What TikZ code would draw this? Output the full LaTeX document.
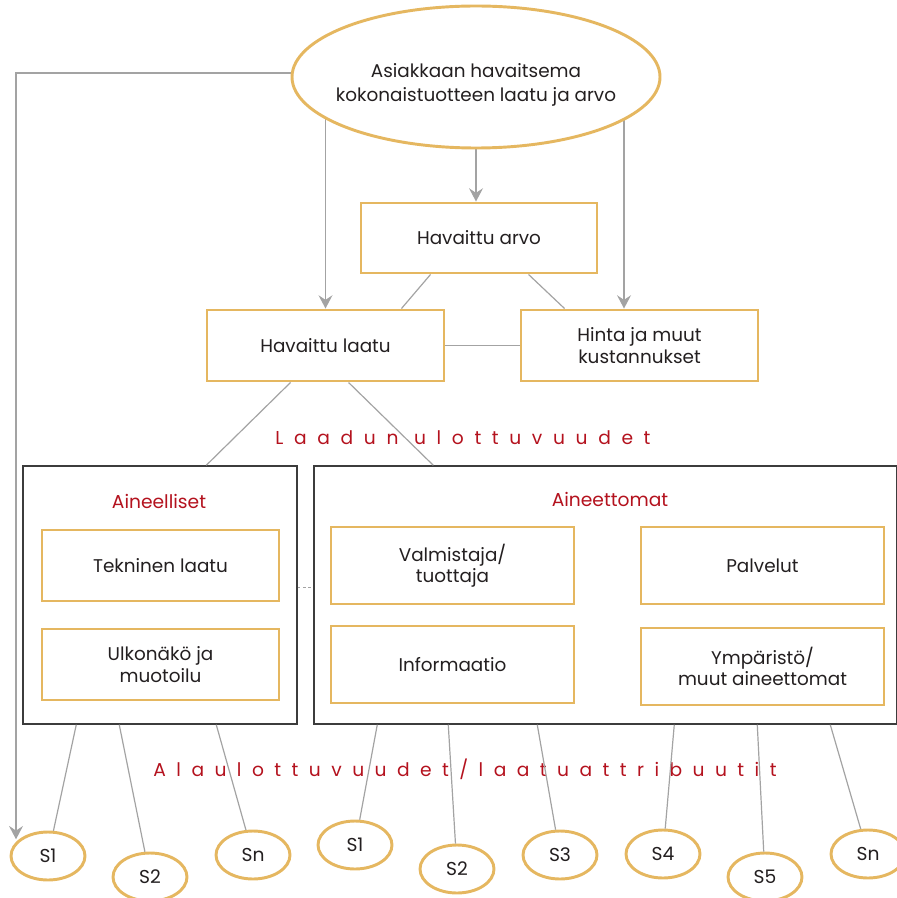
\documentclass[tikz,border=0pt]{standalone}
\usepackage{fontspec}
\setmainfont{Poppins}
\usetikzlibrary{shapes.geometric,arrows.meta,calc,backgrounds}
\definecolor{gold}{HTML}{E5B760}
\definecolor{lgray}{HTML}{A3A3A3}
\definecolor{frame}{HTML}{3C3C3C}
\definecolor{dred}{HTML}{B4121E}
\definecolor{ink}{HTML}{231F20}
\tikzset{
  gbox/.style={draw=gold,line width=2.2pt,fill=white,align=center,inner sep=0pt,text=ink,font=\fontsize{13.8}{16}\selectfont},
  framebox/.style={draw=frame,line width=1.1pt,fill=white,inner sep=0pt},
  sub/.style={ellipse,draw=gold,line width=2.2pt,fill=white,minimum width=55.5pt,minimum height=36pt,inner sep=0pt,text=ink,font=\fontsize{14}{16}\selectfont},
  conn/.style={draw=lgray,line width=0.9pt},
  arr/.style={draw=lgray,line width=0.9pt,-{Stealth[length=10pt,width=10.5pt,inset=3.5pt]},color=lgray},
  redlbl/.style={text=dred,font=\fontsize{14}{16}\selectfont},
  spaced/.style={text=dred,font=\fontsize{14}{16}\selectfont\addfontfeature{LetterSpace=#1}}
}
\begin{document}
\begin{tikzpicture}[x=0.75pt,y=-0.75pt]
\useasboundingbox (0,0) rectangle (896,898);
% top
\node[ellipse,draw=gold,line width=2.2pt,fill=white,minimum width=276pt,minimum height=106.5pt,inner sep=0pt] (top) at (476,77) {};
\node[align=center,text=ink,font=\fontsize{13.8}{18}\selectfont] (toptext) at (476,85) {Asiakkaan havaitsema\\kokonaistuotteen laatu ja arvo};
\node[gbox,minimum width=177pt,minimum height=52.5pt] (arvo) at (479,238) {Havaittu arvo};
\node[gbox,minimum width=177.75pt,minimum height=53.25pt] (laatu) at (325.5,345.5) {Havaittu laatu};
\node[gbox,minimum width=177.75pt,minimum height=53.25pt] (hinta) at (639.5,345.5) {Hinta ja muut\\kustannukset};
% frames
\node[framebox,minimum width=205.5pt,minimum height=193.5pt] (left) at (160,595) {};
\node[framebox,minimum width=437.25pt,minimum height=193.5pt] (right) at (605.5,595) {};
\node[redlbl] (lt) at (159,501) {Aineelliset};
\node[redlbl] (rt) at (610,499) {Aineettomat};
\node[gbox,minimum width=177.75pt,minimum height=53.25pt] (tek) at (160.5,565.5) {Tekninen laatu};
\node[gbox,minimum width=177.75pt,minimum height=53.25pt] (ulk) at (160.5,664.5) {Ulkonäkö ja\\muotoilu};
\node[gbox,minimum width=182.25pt,minimum height=57.75pt] (val) at (452.5,565.5) {Valmistaja/\\tuottaja};
\node[gbox,minimum width=182.25pt,minimum height=57.75pt] (inf) at (452.5,664.5) {Informaatio};
\node[gbox,minimum width=182.25pt,minimum height=57.75pt] (pal) at (762.5,565.5) {Palvelut};
\node[gbox,minimum width=182.25pt,minimum height=57.75pt] (ymp) at (762.5,666.5) {Ympäristö/\\muut aineettomat};
% sub ellipses
\node[sub] (a1) at (48,856) {S1};
\node[sub] (a2) at (150,877) {S2};
\node[sub] (an) at (253,855) {Sn};
\node[sub] (b1) at (355,845) {S1};
\node[sub] (b2) at (457,869) {S2};
\node[sub] (b3) at (560,855) {S3};
\node[sub] (b4) at (663,854) {S4};
\node[sub] (b5) at (765,877) {S5};
\node[sub] (bn) at (868,854) {Sn};
% labels
\node[spaced=57] (l1) at (463,438) {Laadun ulottuvuudet};
\node[spaced=56] (l2) at (465,769) {Alaulottuvuudet/laatuattribuutit};
\coordinate (hx) at ($(hinta.north)+(-15.5,0)$);
\coordinate (lx) at ($(a1.150)+(-3,0)$);
\coordinate (ty) at ($(top.west)+(0,-4)$);
\begin{scope}[on background layer]
\draw[arr] (top.center) -- (top.south |- arvo.north);
\draw[arr] (laatu.north |- top.center) -- (laatu.north);
\draw[arr] (hx |- top.center) -- (hx);
\draw[arr] ($(ty)+(20,0)$) -| (lx);
\end{scope}
\draw[conn] ($(arvo.south west)+(71,0)$) -- ($(laatu.north east)+(-44,0)$);
\draw[conn] ($(arvo.south west)+(169,0)$) -- ($(hinta.north west)+(45,0)$);
\draw[conn] (laatu.east) -- (hinta.west);
\draw[conn] ($(laatu.south west)+(85,0)$) -- ($(left.north west)+(184,0)$);
\draw[conn] ($(laatu.south west)+(143,0)$) -- ($(right.north west)+(120,0)$);
\draw[conn,dash pattern=on 2pt off 2pt,line width=0.6pt] ($(left.east)+(0,-8)$) -- ($(right.west)+(0,-8)$);
\draw[conn] ($(left.south west)+(54,0)$) -- (a1);
\draw[conn] ($(left.south west)+(97,0)$) -- (a2);
\draw[conn] ($(left.south west)+(194,0)$) -- (an);
\draw[conn] ($(right.south west)+(64,0)$) -- (b1);
\draw[conn] ($(right.south west)+(135,0)$) -- (b2);
\draw[conn] ($(right.south west)+(224,0)$) -- (b3);
\draw[conn] ($(right.south west)+(361,0)$) -- (b4);
\draw[conn] ($(right.south west)+(444,0)$) -- (b5);
\draw[conn] ($(right.south west)+(517,0)$) -- (bn);
\end{tikzpicture}
\end{document}
